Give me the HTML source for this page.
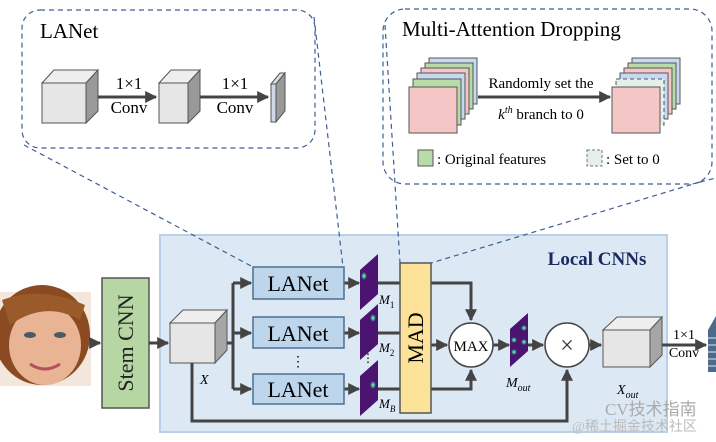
<!DOCTYPE html>
<html><head><meta charset="utf-8"><style>
html,body{margin:0;padding:0;background:#fff}
svg{display:block}
text{font-family:"Liberation Serif",serif}
</style></head><body>
<svg width="716" height="442" viewBox="0 0 716 442" xmlns="http://www.w3.org/2000/svg">
<defs>
<marker id="ar" viewBox="0 0 10 10" refX="9" refY="5" markerWidth="4" markerHeight="4" orient="auto"><path d="M0,0L10,5L0,10z" fill="#444"/></marker>
<radialGradient id="hot" cx="50%" cy="50%" r="50%"><stop offset="0" stop-color="#e8f060"/><stop offset="0.4" stop-color="#30c0a0"/><stop offset="1" stop-color="#4a1470"/></radialGradient>
</defs>
<!-- Local CNNs box -->
<rect x="160" y="235" width="507" height="197" fill="#dce9f5" stroke="#b9d0e6" stroke-width="2"/>
<text x="597" y="265" font-size="19" font-weight="bold" fill="#1b2b60" text-anchor="middle">Local CNNs</text>

<!-- top panels -->
<rect x="22" y="10" width="293" height="138" rx="18" fill="#fff" stroke="#3d5f92" stroke-width="1.2" stroke-dasharray="5,4"/>
<text x="40" y="38" font-size="21">LANet</text>
<!-- cube1 -->
<polygon points="42,83 54,70 98,70 86,83" fill="#eee" stroke="#555"/>
<polygon points="86,83 98,70 98,111 86,123" fill="#999" stroke="#555"/>
<rect x="42" y="83" width="44" height="40" fill="#e6e6e6" stroke="#555"/>
<line x1="98" y1="97" x2="156" y2="97" stroke="#444" stroke-width="3" marker-end="url(#ar)"/>
<text x="129" y="89" font-size="17" text-anchor="middle">1×1</text>
<text x="129" y="113" font-size="17" text-anchor="middle">Conv</text>
<polygon points="159,83 171,70 200,70 188,83" fill="#eee" stroke="#555"/>
<polygon points="188,83 200,70 200,111 188,123" fill="#999" stroke="#555"/>
<rect x="159" y="83" width="29" height="40" fill="#e6e6e6" stroke="#555"/>
<line x1="200" y1="97" x2="268" y2="97" stroke="#444" stroke-width="3" marker-end="url(#ar)"/>
<text x="235" y="89" font-size="17" text-anchor="middle">1×1</text>
<text x="235" y="113" font-size="17" text-anchor="middle">Conv</text>
<polygon points="271,84 280,73 285,73 276,84" fill="#ddd" stroke="#555"/>
<polygon points="276,84 285,73 285,111 276,122" fill="#999" stroke="#555"/>
<rect x="271" y="84" width="5" height="38" fill="#cfd8e4" stroke="#555"/>

<rect x="383" y="9" width="329" height="175" rx="22" fill="#fff" stroke="#3d5f92" stroke-width="1.2" stroke-dasharray="5,4"/>
<text x="402" y="36" font-size="21">Multi-Attention Dropping</text>
<!-- left stack -->
<g stroke="#555" stroke-width="1">
<rect x="429" y="58" width="48" height="46" fill="#c7d9f1"/>
<rect x="425" y="63" width="48" height="46" fill="#b8dba8"/>
<rect x="421" y="68" width="48" height="46" fill="#f4c6c6"/>
<rect x="417" y="73" width="48" height="46" fill="#c7d9f1"/>
<rect x="413" y="79" width="48" height="46" fill="#b8dba8"/>
<rect x="409" y="87" width="48" height="46" fill="#f4c6c6"/>
<rect x="632" y="58" width="48" height="46" fill="#c7d9f1"/>
<rect x="628" y="63" width="48" height="46" fill="#b8dba8"/>
<rect x="624" y="68" width="48" height="46" fill="#f4c6c6"/>
<rect x="620" y="73" width="48" height="46" fill="#c7d9f1"/>
<rect x="616" y="79" width="48" height="46" fill="#e6f0ea" stroke-dasharray="4,3"/>
<rect x="612" y="87" width="48" height="46" fill="#f4c6c6"/>
</g>
<line x1="478" y1="97" x2="610" y2="97" stroke="#444" stroke-width="3" marker-end="url(#ar)"/>
<text x="541" y="88" font-size="15" text-anchor="middle">Randomly set the</text>
<text x="541" y="119" font-size="15" text-anchor="middle"><tspan font-style="italic">k</tspan><tspan font-size="10" dy="-6" font-style="italic">th</tspan><tspan dy="6">  branch to 0</tspan></text>
<rect x="418" y="150" width="15" height="16" fill="#b8dba8" stroke="#555"/>
<text x="437" y="164" font-size="15">: Original features</text>
<rect x="587" y="150" width="15" height="16" fill="#e6f0ea" stroke="#777" stroke-dasharray="3,2"/>
<text x="606" y="164" font-size="15">: Set to 0</text>

<!-- dashed connectors -->
<g stroke="#3d5f92" stroke-width="1.2" stroke-dasharray="5,4" fill="none">
<line x1="24" y1="145" x2="253" y2="267"/>
<line x1="314" y1="17" x2="343" y2="267"/>
<line x1="385" y1="25" x2="400" y2="263"/>
<line x1="700" y1="182" x2="431" y2="263"/>
<line x1="700" y1="182" x2="716" y2="178"/>
</g>

<!-- face -->
<rect x="0" y="292" width="91" height="94" fill="#f3e6dc"/>
<ellipse cx="42" cy="335" rx="48" ry="50" fill="#8a4a22"/>
<ellipse cx="45" cy="345" rx="36" ry="40" fill="#e9b493"/>
<ellipse cx="30" cy="335" rx="6" ry="3" fill="#4b5a6a"/>
<ellipse cx="60" cy="335" rx="6" ry="3" fill="#4b5a6a"/>
<path d="M30,364 Q45,374 60,364" stroke="#b4505a" stroke-width="3" fill="none"/>
<path d="M2,300 Q40,285 85,305 L80,320 Q45,300 10,325z" fill="#9a5a2a"/>
<line x1="91" y1="343" x2="100" y2="343" stroke="#444" stroke-width="3" marker-end="url(#ar)"/>

<!-- Stem CNN -->
<rect x="102" y="278" width="47" height="130" fill="#b6d7a3" stroke="#555" stroke-width="1.5"/>
<text transform="translate(133,343) rotate(-90)" font-size="22" text-anchor="middle" fill="#222">Stem CNN</text>
<line x1="149" y1="343" x2="168" y2="343" stroke="#444" stroke-width="3" marker-end="url(#ar)"/>

<!-- cube X -->
<polygon points="170,323 183,310 227,310 215,323" fill="#eee" stroke="#555"/>
<polygon points="215,323 227,310 227,350 215,363" fill="#a6a6a6" stroke="#555"/>
<rect x="170" y="323" width="45" height="40" fill="#e6e6e6" stroke="#555"/>
<text x="200" y="384" font-size="14" font-style="italic">X</text>

<g stroke="#444" stroke-width="3" fill="none">
<line x1="227" y1="343" x2="233" y2="343"/>
<line x1="233" y1="283" x2="233" y2="389"/>
<line x1="233" y1="283" x2="251" y2="283" marker-end="url(#ar)"/>
<line x1="233" y1="333" x2="251" y2="333" marker-end="url(#ar)"/>
<line x1="233" y1="389" x2="251" y2="389" marker-end="url(#ar)"/>
<line x1="344" y1="283" x2="359" y2="283" marker-end="url(#ar)"/>
<line x1="344" y1="333" x2="359" y2="333" marker-end="url(#ar)"/>
<line x1="344" y1="389" x2="359" y2="389" marker-end="url(#ar)"/>
<line x1="378" y1="283" x2="400" y2="283"/>
<line x1="378" y1="333" x2="400" y2="333"/>
<line x1="378" y1="389" x2="400" y2="389"/>
<polyline points="431,283 471,283 471,320" marker-end="url(#ar)"/>
<polyline points="431,389 471,389 471,370" marker-end="url(#ar)"/>
<line x1="431" y1="345" x2="447" y2="345" marker-end="url(#ar)"/>
<line x1="493" y1="345" x2="509" y2="345" marker-end="url(#ar)"/>
<line x1="528" y1="345" x2="543" y2="345" marker-end="url(#ar)"/>
<line x1="589" y1="345" x2="601" y2="345" marker-end="url(#ar)"/>
<polyline points="192,363 192,421 567,421 567,370" marker-end="url(#ar)"/>
<line x1="662" y1="345" x2="706" y2="345" marker-end="url(#ar)"/>
</g>

<!-- LANet boxes -->
<g fill="#bdd6ec" stroke="#4f6f90" stroke-width="1.5">
<rect x="253" y="267" width="91" height="32"/>
<rect x="253" y="317" width="91" height="31"/>
<rect x="253" y="374" width="91" height="30"/>
</g>
<g font-size="22" text-anchor="middle">
<text x="298" y="291">LANet</text>
<text x="298" y="341">LANet</text>
<text x="298" y="397">LANet</text>
</g>
<text x="298" y="366" font-size="14" text-anchor="middle">⋮</text>
<text x="368" y="362" font-size="12" text-anchor="middle">⋮</text>

<!-- maps -->
<g fill="#4a1470">
<polygon points="360,310 360,270 378,254 378,294"/>
<polygon points="360,360 360,320 378,304 378,344"/>
<polygon points="360,416 360,376 378,360 378,400"/>
</g>
<ellipse cx="364" cy="276" rx="3" ry="4" fill="url(#hot)"/>
<ellipse cx="373" cy="318" rx="3" ry="4" fill="url(#hot)"/>
<ellipse cx="373" cy="385" rx="3" ry="4" fill="url(#hot)"/>
<g font-size="13" font-style="italic">
<text x="379" y="304">M<tspan font-size="9" dy="4" font-style="normal">1</tspan></text>
<text x="379" y="352">M<tspan font-size="9" dy="4" font-style="normal">2</tspan></text>
<text x="379" y="408">M<tspan font-size="9" dy="4">B</tspan></text>
</g>

<!-- MAD -->
<rect x="400" y="263" width="31" height="150" fill="#fde39a" stroke="#555" stroke-width="1.5"/>
<text transform="translate(423,338) rotate(-90)" font-size="22" text-anchor="middle">MAD</text>

<circle cx="471" cy="345" r="22" fill="#fff" stroke="#444" stroke-width="1.5"/>
<text x="471" y="351" font-size="15" text-anchor="middle">MAX</text>

<polygon points="510,367 510,329 528,313 528,351" fill="#4a1470"/>
<circle cx="514" cy="340" r="3" fill="url(#hot)"/><circle cx="524" cy="328" r="3" fill="url(#hot)"/>
<circle cx="514" cy="352" r="3" fill="url(#hot)"/><circle cx="524" cy="342" r="3" fill="url(#hot)"/>
<text x="506" y="387" font-size="14" font-style="italic">M<tspan font-size="10" dy="4">out</tspan></text>

<circle cx="567" cy="345" r="22" fill="#fff" stroke="#444" stroke-width="1.5"/>
<text x="567" y="353" font-size="24" text-anchor="middle" fill="#333">×</text>

<!-- Xout cube -->
<polygon points="603,330 617,317 662,317 650,330" fill="#eee" stroke="#555"/>
<polygon points="650,330 662,317 662,355 650,367" fill="#a6a6a6" stroke="#555"/>
<rect x="603" y="330" width="47" height="37" fill="#e6e6e6" stroke="#555"/>
<text x="617" y="394" font-size="14" font-style="italic">X<tspan font-size="10" dy="4">out</tspan></text>
<text x="684" y="339" font-size="14" text-anchor="middle">1×1</text>
<text x="684" y="357" font-size="14" text-anchor="middle">Conv</text>
<polygon points="708,330 716,316 716,372 708,372" fill="#4d6a8a"/>
<g stroke="#dfe8f2" stroke-width="1"><line x1="708" y1="338" x2="716" y2="338"/><line x1="708" y1="345" x2="716" y2="345"/><line x1="708" y1="352" x2="716" y2="352"/><line x1="708" y1="359" x2="716" y2="359"/><line x1="708" y1="366" x2="716" y2="366"/></g>

<!-- watermark -->
<text x="605" y="415" font-size="17" fill="#aaa" font-family="Liberation Sans,Noto Sans CJK SC,sans-serif">CV技术指南</text>
<text x="572" y="431" font-size="14" fill="#bbb" font-family="Liberation Sans,Noto Sans CJK SC,sans-serif">@稀土掘金技术社区</text>
</svg>
</body></html>
